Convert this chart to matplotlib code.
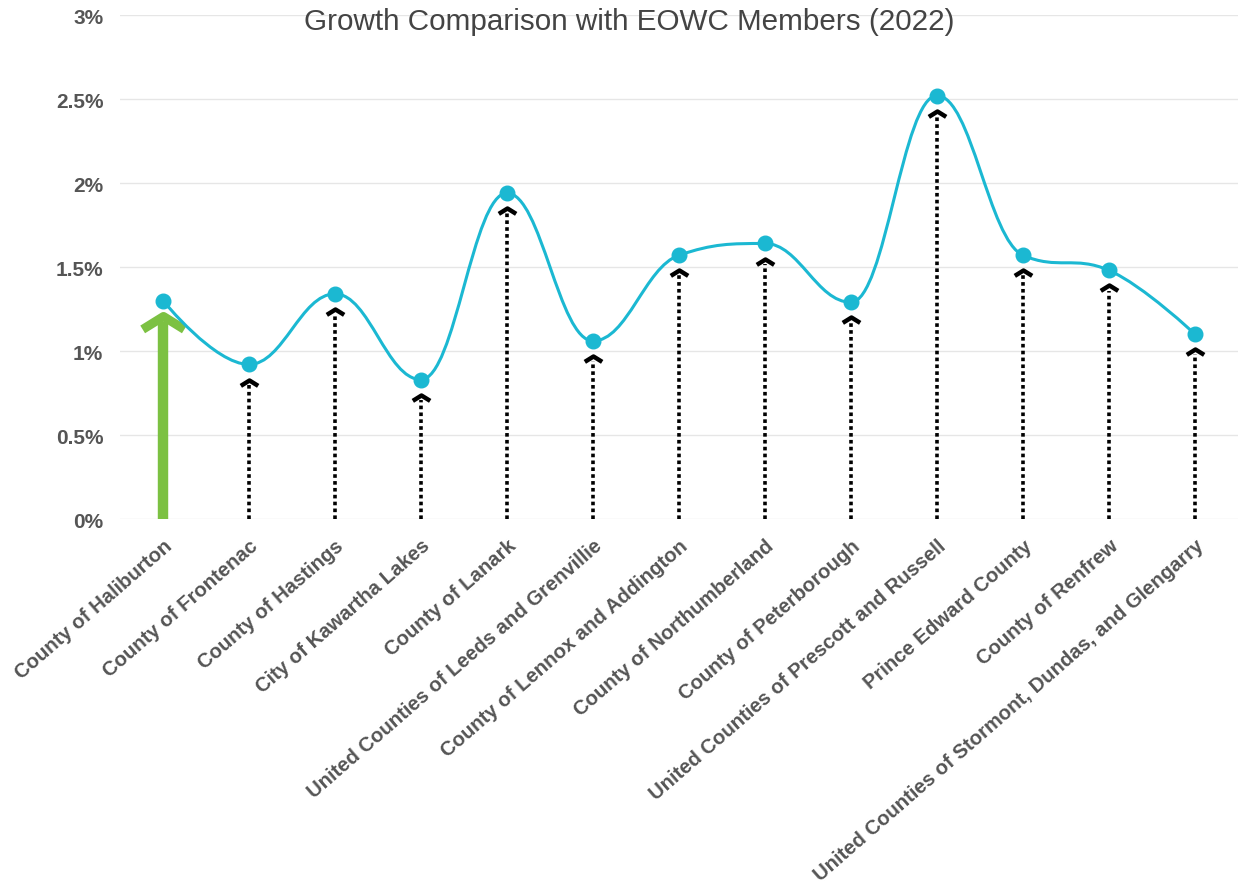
import matplotlib
matplotlib.use("Agg")
import matplotlib.pyplot as plt
from matplotlib.path import Path
from matplotlib.patches import PathPatch
from matplotlib.ticker import FuncFormatter

plt.rcParams['font.family'] = ['Liberation Sans', 'DejaVu Sans']

# data
members = ['County of Haliburton', 'County of Frontenac', 'County of Hastings',
           'City of Kawartha Lakes', 'County of Lanark',
           'United Counties of Leeds and Grenvillie', 'County of Lennox and Addington',
           'County of Northumberland', 'County of Peterborough',
           'United Counties of Prescott and Russell', 'Prince Edward County',
           'County of Renfrew', 'United Counties of Stormont, Dundas, and Glengarry']
growth = [1.30, 0.92, 1.34, 0.83, 1.94, 1.06, 1.57, 1.64, 1.29, 2.52, 1.57, 1.48, 1.10]
y_ticks = [0, 0.5, 1, 1.5, 2, 2.5, 3]

line_col = '#1bb8d2'
green = '#7cc142'
gap = 0.09  # arrow tip sits a bit under the point


def spline_path(xs, ys, smoothing=1.5):
    # highcharts-like spline: bezier control points around each point
    n = len(xs)
    left = [None] * n
    right = [None] * n
    for i in range(1, n - 1):
        x, y = xs[i], ys[i]
        lx, ly = xs[i - 1], ys[i - 1]
        nx, ny = xs[i + 1], ys[i + 1]
        d = smoothing + 1
        lcx = (smoothing * x + lx) / d
        lcy = (smoothing * y + ly) / d
        rcx = (smoothing * x + nx) / d
        rcy = (smoothing * y + ny) / d
        corr = (rcy - lcy) * (rcx - x) / (rcx - lcx) + y - rcy
        lcy += corr
        rcy += corr
        if lcy > ly and lcy > y:
            lcy = max(ly, y)
            rcy = 2 * y - lcy
        elif lcy < ly and lcy < y:
            lcy = min(ly, y)
            rcy = 2 * y - lcy
        if rcy > ny and rcy > y:
            rcy = max(ny, y)
            lcy = 2 * y - rcy
        elif rcy < ny and rcy < y:
            rcy = min(ny, y)
            lcy = 2 * y - rcy
        left[i] = (lcx, lcy)
        right[i] = (rcx, rcy)
    verts = [(xs[0], ys[0])]
    codes = [Path.MOVETO]
    for i in range(1, n):
        c1 = right[i - 1] or (xs[i - 1], ys[i - 1])
        c2 = left[i] or (xs[i], ys[i])
        verts += [c1, c2, (xs[i], ys[i])]
        codes += [Path.CURVE4] * 3
    return Path(verts, codes)


chevron = Path([(-1, -0.62), (0, 0), (1, -0.62)],
               [Path.MOVETO, Path.LINETO, Path.LINETO])

fig = plt.figure(figsize=(12.38, 8.95), dpi=100)
ax = fig.add_axes([120 / 1238, 1 - 520 / 895, 1118 / 1238, 504 / 895])

xs = list(range(len(members)))
ax.set_xlim(-0.5, len(members) - 0.5)
ax.set_ylim(0, 3)

for s in ax.spines.values():
    s.set_visible(False)
ax.set_yticks(y_ticks)
ax.yaxis.set_major_formatter(FuncFormatter(lambda v, p: '{:g}%'.format(v)))
ax.grid(axis='y', color='#e6e6e6', lw=1)
ax.set_axisbelow(True)
ax.tick_params(axis='y', length=0, labelsize=15, labelcolor='#555555', pad=12)
for t in ax.get_yticklabels():
    t.set_fontweight('bold')
ax.set_xticks(xs)
ax.set_xticklabels(members, rotation=41, ha='right', rotation_mode='anchor',
                   fontweight='bold', fontsize=14.6, color='#555555')
ax.tick_params(axis='x', length=0, pad=12)

# arrows
for i, v in enumerate(growth):
    tip = v - gap
    if i == 0:
        ax.plot([i, i], [0, tip - 0.04], color=green, lw=7.5, solid_capstyle='butt', zorder=3)
        ax.plot([i], [tip], marker=chevron, ms=30, mfc='none', mec=green, mew=6.5,
                zorder=3, clip_on=False)
    else:
        ax.plot([i, i], [0, tip - 0.03], color='black', lw=2.6, ls=(0, (1, 0.9)),
                solid_capstyle='butt', zorder=3)
        ax.plot([i], [tip], marker=chevron, ms=12.5, mfc='none', mec='black', mew=3.2,
                zorder=3)

ax.add_patch(PathPatch(spline_path(xs, growth), fill=False, ec=line_col, lw=2.2, zorder=4))
ax.plot(xs, growth, 'o', color=line_col, ms=10.5, zorder=5)

fig.text(629 / 1238, 1 - 22 / 895, 'Growth Comparison with EOWC Members (2022)',
         ha='center', va='center', fontsize=21.3, color='#444444')

fig.savefig('out.png', dpi=100)
